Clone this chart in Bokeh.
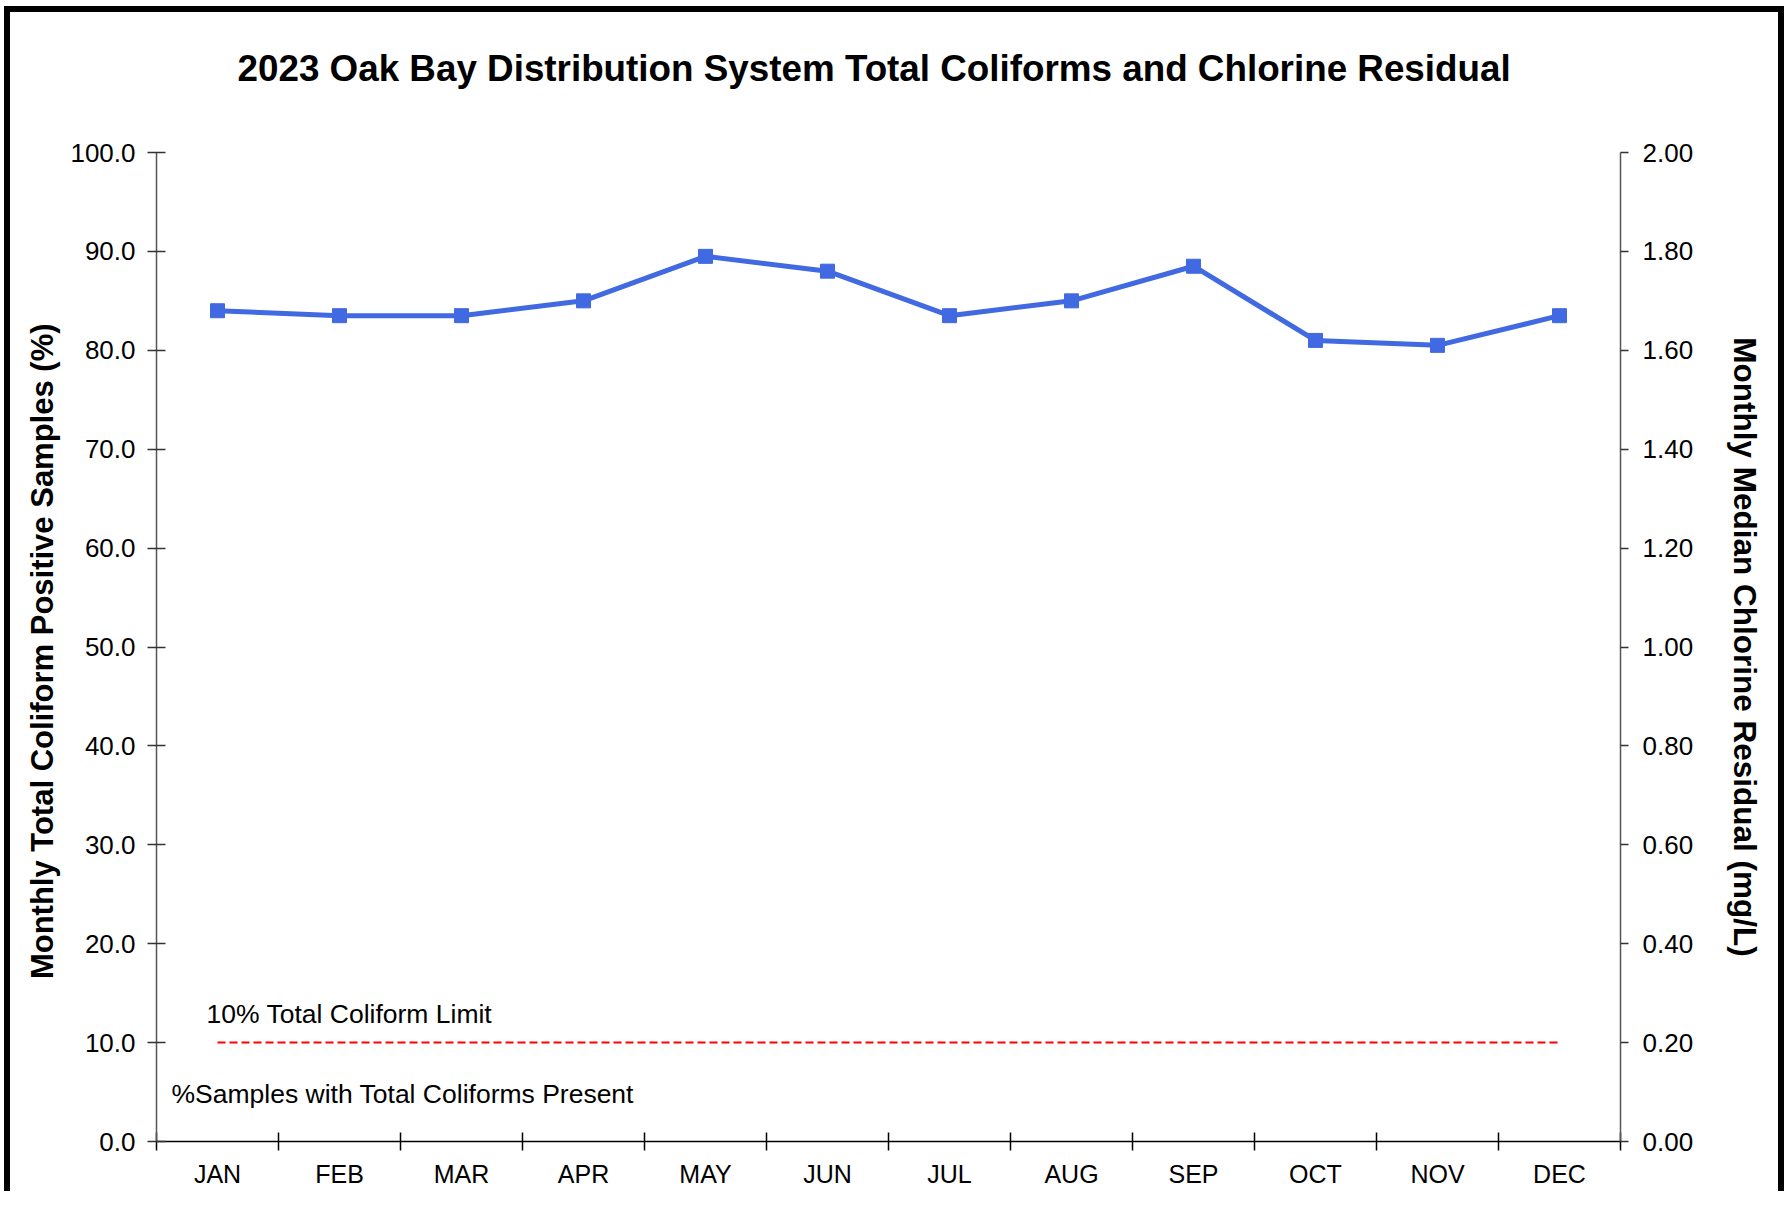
from bokeh.plotting import figure
from bokeh.models import (Range1d, LinearAxis, FixedTicker, NumeralTickFormatter,
                          Label, ColumnDataSource, Title)
from bokeh.embed import file_html
from bokeh.resources import INLINE

# ---------------- data ----------------
months = ["JAN", "FEB", "MAR", "APR", "MAY", "JUN",
          "JUL", "AUG", "SEP", "OCT", "NOV", "DEC"]
chlorine_mg_l = [1.68, 1.67, 1.67, 1.70, 1.79, 1.76,
                 1.67, 1.70, 1.77, 1.62, 1.61, 1.67]
coliform_pct = [0, 0, 0, 0, 0, 0, 0, 0, 0, 0, 0, 0]
limit_pct = 10.0
left_ticks = [0, 10, 20, 30, 40, 50, 60, 70, 80, 90, 100]
right_ticks = [0.0, 0.2, 0.4, 0.6, 0.8, 1.0, 1.2, 1.4, 1.6, 1.8, 2.0]

title_text = "2023 Oak Bay Distribution System Total Coliforms and Chlorine Residual"
left_label = "Monthly  Total Coliform Positive Samples (%)"
right_label = "Monthly Median Chlorine Residual (mg/L)"
limit_text = "10% Total Coliform Limit"
series_text = "%Samples with Total Coliforms Present"

FONT = "Liberation Sans"

centers = [i + 0.5 for i in range(len(months))]
bounds = [i for i in range(len(months) + 1)]
y_max = left_ticks[-1]

src = ColumnDataSource(dict(x=centers, cl=chlorine_mg_l, col=coliform_pct,
                            lim=[limit_pct] * len(months)))

p = figure(frame_width=1464, frame_height=989,
           x_range=Range1d(0, len(months)), y_range=Range1d(0, y_max),
           output_backend="svg", toolbar_location=None, title=None,
           min_border_left=146, min_border_right=158,
           min_border_top=140, min_border_bottom=50,
           background_fill_color="white", border_fill_color="white")
p.extra_y_ranges = {"cl": Range1d(0, right_ticks[-1])}
p.outline_line_color = None
p.xgrid.visible = False
p.ygrid.visible = False
p.styles = {"border-left": "6px solid black", "border-top": "6px solid black",
            "border-right": "6px solid black",
            "margin-left": "4px", "margin-top": "6px"}

# spacer between frame and title, then the title itself
p.add_layout(Title(text=" ", text_font_size="2px", standoff=60), "above")
p.add_layout(Title(text=title_text, align="left", offset=81, standoff=0,
                   text_font=FONT, text_font_size="36.8px", text_font_style="bold",
                   text_color="black"), "above")

# x axis
xa = p.xaxis[0]
xa.ticker = FixedTicker(ticks=centers, minor_ticks=bounds)
xa.major_label_overrides = {c: m for c, m in zip(centers, months)}
xa.major_tick_in = 0
xa.major_tick_out = 0
xa.minor_tick_in = 9
xa.minor_tick_out = 9
xa.minor_tick_line_color = "black"
xa.minor_tick_line_width = 1.5
xa.axis_line_color = "black"
xa.axis_line_width = 1.5
xa.major_label_text_font = FONT
xa.major_label_text_font_size = "25px"
xa.major_label_text_color = "black"
xa.major_label_standoff = 9

# left axis
ya = p.yaxis[0]
ya.ticker = FixedTicker(ticks=left_ticks, minor_ticks=[])
ya.formatter = NumeralTickFormatter(format="0.0")
ya.major_tick_in = 9
ya.major_tick_out = 9
ya.major_tick_line_color = "#333333"
ya.major_tick_line_width = 1.5
ya.minor_tick_line_color = None
ya.axis_line_color = "#555555"
ya.axis_line_width = 1.5
ya.major_label_text_font = FONT
ya.major_label_text_font_size = "26px"
ya.major_label_text_color = "black"
ya.major_label_standoff = 12
ya.axis_label = left_label
ya.axis_label_text_font = FONT
ya.axis_label_text_font_size = "31px"
ya.axis_label_text_font_style = "bold"
ya.axis_label_text_color = "black"
ya.axis_label_standoff = 7

# right axis
ra = LinearAxis(y_range_name="cl")
ra.ticker = FixedTicker(ticks=right_ticks, minor_ticks=[])
ra.formatter = NumeralTickFormatter(format="0.00")
ra.major_tick_in = 0
ra.major_tick_out = 8
ra.major_tick_line_color = "#333333"
ra.major_tick_line_width = 1.5
ra.axis_line_color = "#555555"
ra.axis_line_width = 1.5
ra.major_label_text_font = FONT
ra.major_label_text_font_size = "26px"
ra.major_label_text_color = "black"
ra.major_label_standoff = 14
ra.axis_label = right_label
ra.axis_label_text_font = FONT
ra.axis_label_text_font_size = "31.5px"
ra.axis_label_text_font_style = "bold"
ra.axis_label_text_color = "black"
ra.axis_label_standoff = 31
p.add_layout(ra, "right")

# coliform bars (all zero -> invisible)
p.vbar(x="x", top="col", width=0.5, source=src, fill_color="#C0504D", line_color=None)

# limit line
p.line(x="x", y="lim", source=src, line_color="#FF0000", line_width=2, line_dash="8 4")

# chlorine residual
p.line(x="x", y="cl", source=src, y_range_name="cl", line_color="#4169E1", line_width=5)
p.scatter(x="x", y="cl", source=src, y_range_name="cl", marker="square", size=14,
          fill_color="#4169E1", line_color="#4169E1")

# annotations
p.add_layout(Label(x=centers[0], y=limit_pct, x_offset=-11, y_offset=14, text=limit_text,
                   text_font=FONT, text_font_size="26.5px", text_color="black",
                   text_baseline="bottom"))
p.add_layout(Label(x=0, y=limit_pct, x_offset=15, y_offset=-36, text=series_text,
                   text_font=FONT, text_font_size="26.5px", text_color="black",
                   text_baseline="top"))

open("out.html", "w").write(file_html(p, INLINE))
